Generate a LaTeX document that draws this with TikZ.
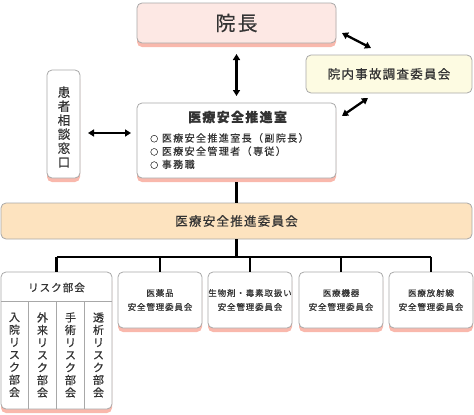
\documentclass[tikz,border=0pt]{standalone}
\usepackage{fontspec}
\setmainfont[LetterSpace=10,FakeBold=0.6]{Noto Sans CJK JP}
\usetikzlibrary{arrows.meta,shadows}
\definecolor{txt}{HTML}{333333}
\definecolor{bordc}{HTML}{A8A8A8}
\definecolor{shadc}{HTML}{F9B8AC}
\definecolor{pinkc}{HTML}{FDE8E4}
\definecolor{yelc}{HTML}{FDFBE2}
\definecolor{bandc}{HTML}{FDE3BF}
\begin{document}
\begin{tikzpicture}[x=1pt,y=-1pt,
  box/.style={draw=bordc,line width=0.8pt,rounded corners=5pt,fill=white,inner sep=0pt,text=txt},
  shbox/.style={box,general shadow={fill=shadc,shadow yshift=-4pt}},
  dbl/.style={{Triangle[length=6pt,width=7pt]}-{Triangle[length=6pt,width=7pt]},line width=2.3pt},
  bus/.style={line width=2.4pt},
  vtext/.style={align=center,inner sep=0pt,text=txt}]
\useasboundingbox (0,0) rectangle (474,415);
% top
\node[shbox,fill=pinkc,minimum width=199pt,minimum height=40pt,font=\fontsize{20}{22}\selectfont] (inchou) at (236.5,23) {院長};
\node[box,fill=yelc,minimum width=166pt,minimum height=38pt,font=\fontsize{12.5}{14}\selectfont] (jiko) at (389,74) {院内事故調査委員会};
\node[shbox,minimum width=33pt,minimum height=108pt] (kanja) at (63.5,124) {};
\node[vtext,font=\fontsize{12.5}{14}\selectfont] (kanjat) at (64,127) {患\\者\\相\\談\\窓\\口};
\node[shbox,minimum width=199pt,minimum height=75pt] (suishin) at (236.5,140.5) {};
\node[text=txt,inner sep=0pt,font=\bfseries\fontsize{13}{15}\selectfont] (suishint) at (237.5,117) {医療安全推進室};
\node[text=txt,inner sep=0pt,anchor=north west,align=left,font=\fontsize{10}{13.2}\selectfont\addfontfeatures{LetterSpace=14}] (items) at (150,133) {{\fontsize{8}{10}\selectfont○}\ 医療安全推進室長（副院長）\\{\fontsize{8}{10}\selectfont○}\ 医療安全管理者（専従）\\{\fontsize{8}{10}\selectfont○}\ 事務職};
% arrows
\coordinate (a1) at (236.5,54);
\coordinate (a2) at (236.5,96);
\draw[dbl] (a1) -- (a2);
\coordinate (b1) at (342,33);
\coordinate (b2) at (371,48);
\draw[dbl] (b1) -- (b2);
\coordinate (c1) at (342,116);
\coordinate (c2) at (368,98);
\draw[dbl] (c1) -- (c2);
\coordinate (d1) at (88,133);
\coordinate (d2) at (131,133);
\draw[dbl] (d1) -- (d2);
% band
\node[box,fill=bandc,minimum width=471pt,minimum height=36pt,font=\fontsize{12.5}{14}\selectfont] (band) at (236.5,221) {医療安全推進委員会};
\draw[bus] (suishin.south) ++(0,4) -- (band.north);
% lower boxes
\node[shbox,minimum width=111pt,minimum height=137pt] (risk) at (56.5,340.5) {};
\node[text=txt,inner sep=0pt,font=\fontsize{10.5}{12}\selectfont] (riskt) at (56.5,287.5) {リスク部会};
\draw[draw=bordc,line width=0.8pt] (1,301) -- (112,301);
\foreach \x in {28.75,56.5,84.25} \draw[draw=bordc,line width=0.8pt] (\x,301) -- (\x,409);
\node[vtext,font=\fontsize{11}{12.5}\selectfont] (r1) at (14.5,355) {入\\院\\リ\\ス\\ク\\部\\会};
\node[vtext,font=\fontsize{11}{12.5}\selectfont] (r2) at (42.5,355) {外\\来\\リ\\ス\\ク\\部\\会};
\node[vtext,font=\fontsize{11}{12.5}\selectfont] (r3) at (70.5,355) {手\\術\\リ\\ス\\ク\\部\\会};
\node[vtext,font=\fontsize{11}{12.5}\selectfont] (r4) at (98.5,355) {透\\析\\リ\\ス\\ク\\部\\会};
\tikzset{cbox/.style={shbox,minimum width=84pt,minimum height=56pt,align=center,font=\fontsize{8.5}{14}\selectfont}}
\node[cbox] (k1) at (160,300) {医薬品\\安全管理委員会};
\node[cbox] (k2) at (250,300) {生物剤・毒素取扱い\\安全管理委員会};
\node[cbox] (k3) at (341,300) {医療機器\\安全管理委員会};
\node[cbox] (k4) at (431,300) {医療放射線\\安全管理委員会};
\coordinate (busL) at (56.5,257);
\coordinate (busR) at (431,257);
\coordinate (busM) at (236.5,257);
\draw[bus] (band.south) -- (busM);
\draw[bus] (busL) -- (busR);
\draw[bus] (busL) -- (risk.north);
\draw[bus] (k1.north |- busL) -- (k1.north);
\draw[bus] (k2.north |- busL) -- (k2.north);
\draw[bus] (k3.north |- busL) -- (k3.north);
\draw[bus] (busR) -- (k4.north);
\end{tikzpicture}
\end{document}
